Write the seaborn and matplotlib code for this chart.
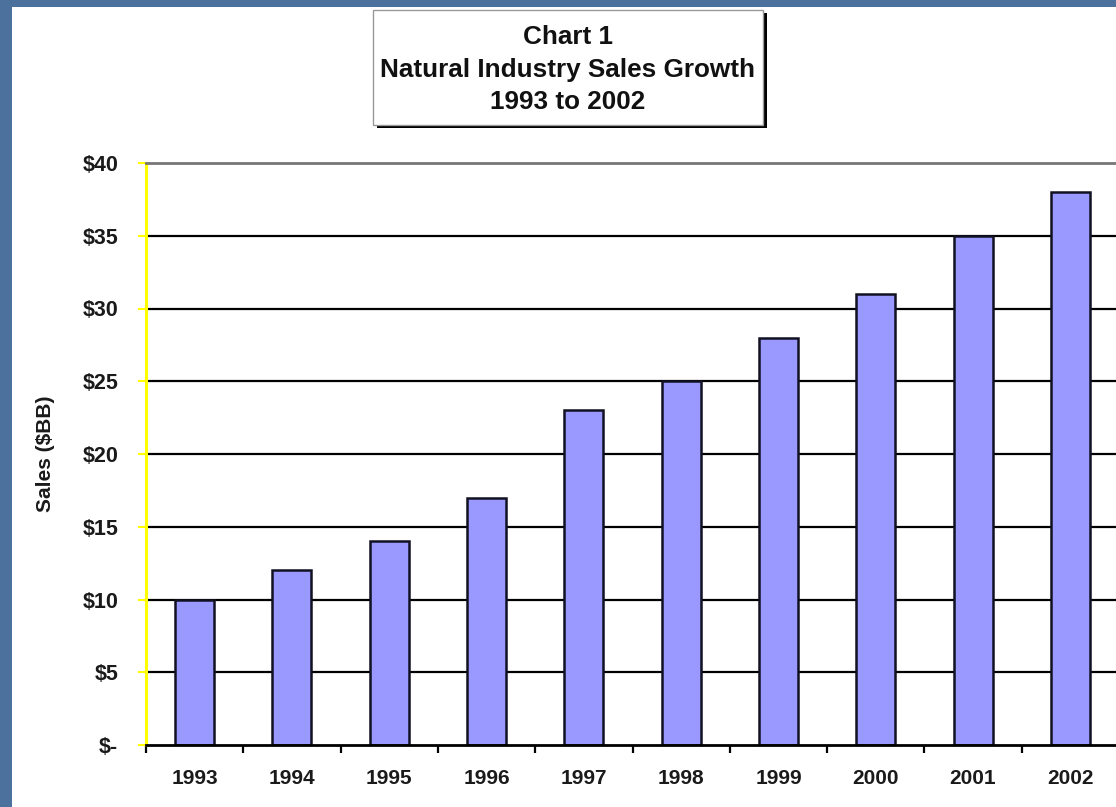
import matplotlib
matplotlib.use("Agg")
import matplotlib.pyplot as plt
from matplotlib.patches import Rectangle
from matplotlib.ticker import FixedLocator
import seaborn as sns
import pandas as pd

# Natural products industry sales, billions of dollars
years = ["1993", "1994", "1995", "1996", "1997", "1998", "1999", "2000", "2001", "2002"]
sales = [10, 12, 14, 17, 23, 25, 28, 31, 35, 38]
y_ticks = [0, 5, 10, 15, 20, 25, 30, 35, 40]
y_tick_labels = ["$-", "$5", "$10", "$15", "$20", "$25", "$30", "$35", "$40"]
title_lines = ["Chart 1", "Natural Industry Sales Growth", "1993 to 2002"]

sns.set_theme(style="white")
plt.rcParams["font.family"] = ["Liberation Sans", "DejaVu Sans"]
plt.rcParams["font.weight"] = "bold"

W, H = 1116, 807
fig = plt.figure(figsize=(W / 100, H / 100), dpi=100)
fig.patch.set_facecolor("#4c719d")

# white slide panel
fig.patches.append(Rectangle((12 / W, 0), 1, 1 - 7 / H, transform=fig.transFigure,
                             facecolor="white", edgecolor="none", zorder=-5))

left, right, top, bottom = 146, 1119, 163, 745
ax = fig.add_axes([left / W, 1 - bottom / H, (right - left) / W, (bottom - top) / H])
ax.set_zorder(1)
ax.set_facecolor("white")

df = pd.DataFrame({"Year": years, "Sales": sales})
sns.barplot(data=df, x="Year", y="Sales", color="#9999ff", saturation=1,
            edgecolor="#111122", linewidth=1.8, width=0.4, ax=ax, zorder=3)

ax.set_xlim(-0.5, len(years) - 0.5)
ax.set_ylim(0, 40)

# horizontal gridlines
for v in y_ticks[1:-1]:
    ax.axhline(v, color="black", linewidth=1.6, zorder=1)

ax.set_yticks(y_ticks)
ax.set_yticklabels(y_tick_labels, fontsize=15.5, fontweight="bold", color="#1a1a1a")
ax.tick_params(axis="y", left=True, direction="out", length=6, width=1.5,
               color="#ffff00", pad=14)

ax.tick_params(axis="x", which="major", bottom=True, length=0, pad=17,
               labelsize=15, labelcolor="#1a1a1a")
for lbl in ax.get_xticklabels():
    lbl.set_fontweight("bold")
ax.xaxis.set_minor_locator(FixedLocator([i - 0.5 for i in range(len(years) + 1)]))
ax.tick_params(axis="x", which="minor", bottom=True, direction="out", length=6,
               width=1.6, color="black")

ax.set_xlabel("")
ax.set_ylabel("Sales ($BB)", fontsize=15, fontweight="bold", color="#1a1a1a", labelpad=20)

ax.spines["left"].set_color("#ffff00")
ax.spines["left"].set_linewidth(2.2)
ax.spines["bottom"].set_color("black")
ax.spines["bottom"].set_linewidth(2)
ax.spines["top"].set_color("#777777")
ax.spines["top"].set_linewidth(2)
ax.spines["right"].set_visible(False)
for s in ax.spines.values():
    s.set_zorder(4)

# title box with drop shadow
bx0, by0, bx1, by1 = 373, 10, 763, 125
fig.patches.append(Rectangle(((bx0 + 4) / W, 1 - (by1 + 3) / H), (bx1 - bx0) / W, (by1 - by0) / H,
                             transform=fig.transFigure, facecolor="black", edgecolor="none", zorder=5))
fig.patches.append(Rectangle((bx0 / W, 1 - by1 / H), (bx1 - bx0) / W, (by1 - by0) / H,
                             transform=fig.transFigure, facecolor="white", edgecolor="#999999",
                             linewidth=1, zorder=6))
cx = (bx0 + bx1) / 2
for line, yy in zip(title_lines, [37, 70, 102]):
    fig.text(cx / W, 1 - yy / H, line, ha="center", va="center", fontsize=18.8,
             fontweight="bold", color="#111111", zorder=7)

fig.savefig("out.png", dpi=100, facecolor=fig.get_facecolor())
